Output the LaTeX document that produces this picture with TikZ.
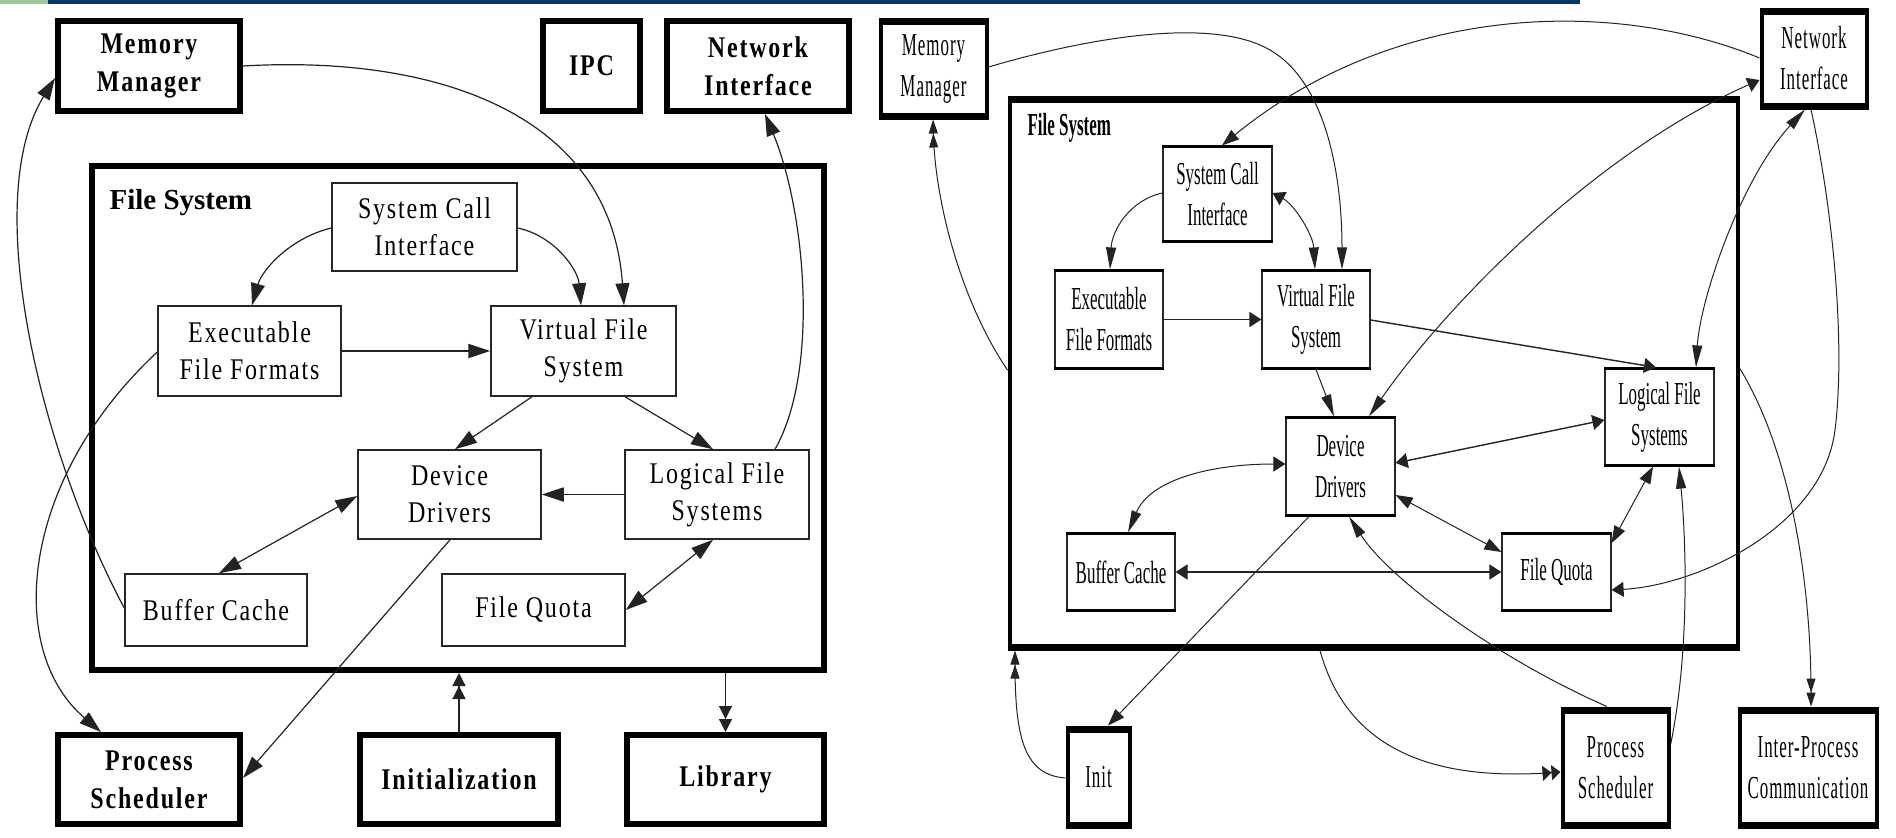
\documentclass[tikz,border=0pt]{standalone}
\usepackage{fontspec}
\setmainfont{Liberation Serif}
\newfontfamily\lf[FakeStretch=0.8,LetterSpace=6]{Liberation Serif}
\newfontfamily\rf[FakeStretch=0.53]{Liberation Serif}
\newfontfamily\rft[FakeStretch=0.53,LetterSpace=3]{Liberation Serif}
\usetikzlibrary{arrows.meta,calc}
\definecolor{topgreen}{RGB}{156,203,152}
\definecolor{topblue}{RGB}{0,56,110}
\definecolor{edgec}{RGB}{35,35,35}
\tikzset{
  lthin/.style={draw=black!85, line width=1.5pt, align=center, inner sep=0pt,
    font=\lf\fontsize{30}{37}\selectfont},
  lthick/.style={draw=black, line width=6pt, align=center, inner sep=0pt,
    font=\lf\bfseries\fontsize{30}{38}\selectfont},
  rthin/.style={draw=black!85, line width=1.2pt, align=center, inner sep=0pt,
    font=\rf\fontsize{32}{41}\selectfont},
  rthick/.style={draw=black, line width=4pt, align=center, inner sep=0pt,
    font=\rft\fontsize{32}{41}\selectfont},
  le/.style={draw=edgec, line width=1.2pt},
  re/.style={draw=edgec, line width=1pt},
  % left arrow tips
  la/.style={-{Triangle[length=22pt,width=14pt]}},
  lb/.style={{Triangle[length=22pt,width=14pt]}-{Triangle[length=22pt,width=14pt]}},
  ld/.style={-{Triangle[length=13pt,width=13pt]Triangle[length=13pt,width=13pt]}},
  % right arrow tips (drawing is squeezed sideways)
  rv/.style={-{Triangle[length=22pt,width=10pt]}},
  rh/.style={-{Triangle[length=12pt,width=15pt]}},
  rm/.style={-{Triangle[length=17pt,width=12pt]}},
  rbv/.style={{Triangle[length=22pt,width=10pt]}-{Triangle[length=22pt,width=10pt]}},
  rbh/.style={{Triangle[length=12pt,width=15pt]}-{Triangle[length=12pt,width=15pt]}},
  rbm/.style={{Triangle[length=17pt,width=12pt]}-{Triangle[length=17pt,width=12pt]}},
  rvh/.style={{Triangle[length=22pt,width=10pt]}-{Triangle[length=12pt,width=15pt]}},
  rhv/.style={{Triangle[length=12pt,width=15pt]}-{Triangle[length=22pt,width=10pt]}},
  rdv/.style={-{Triangle[length=14pt,width=9pt]Triangle[length=14pt,width=9pt]}},
  rdh/.style={-{Triangle[length=9pt,width=15pt]Triangle[length=9pt,width=15pt]}},
}
\begin{document}
\begin{tikzpicture}[x=1pt,y=-1pt]
\useasboundingbox (0,0) rectangle (1896,838);
\fill[white] (0,0) rectangle (1896,838);
% top strip
\fill[topgreen] (0,0) rectangle (48,3.5);
\fill[topblue] (48,0) rectangle (1580,3.5);

% ================= LEFT DIAGRAM =================
\node[lthick, minimum width=732pt, minimum height=504pt] (lfs) at (458,418) {};
\node[anchor=west, font=\bfseries\fontsize{29}{34}\selectfont] (lfslab) at (106,203) {File System};

\node[lthick, minimum width=182pt, minimum height=90pt] (lmm) at (149,66) {Memory\\Manager};
\node[lthick, minimum width=97pt, minimum height=90pt] (lipc) at (591.5,66) {IPC};
\node[lthick, minimum width=182pt, minimum height=90pt] (lni) at (758,66) {Network\\Interface};
\node[lthick, minimum width=182pt, minimum height=89pt] (lps) at (149,779.5) {Process\\Scheduler};
\node[lthick, minimum width=198pt, minimum height=89pt] (linit) at (459,779.5) {Initialization};
\node[lthick, minimum width=197pt, minimum height=89pt] (llib) at (725.5,779.5) {Library};

\node[lthin, minimum width=185pt, minimum height=88pt] (lsci) at (424.5,227) {System Call\\Interface};
\node[lthin, minimum width=183pt, minimum height=90pt] (leff) at (249.5,351) {Executable\\File Formats};
\node[lthin, minimum width=185pt, minimum height=90pt] (lvfs) at (583.5,351) {Virtual File\\System};
\node[lthin, minimum width=183pt, minimum height=89pt] (ldd) at (449.5,494.5) {Device\\Drivers};
\node[lthin, minimum width=184pt, minimum height=89pt] (llfs) at (717,494.5) {Logical File\\Systems};
\node[lthin, minimum width=182pt, minimum height=72pt] (lbc) at (216,610) {Buffer Cache};
\node[lthin, minimum width=183pt, minimum height=72pt] (lfq) at (533.5,610) {File Quota};

% left edges
\draw[le,la] (lmm.east |- 0,66) .. controls (430,55) and (610,110) .. (lvfs.north -| 624,0);
\draw[le,la] (lbc.west |- 0,608) .. controls (40,450) and (-20,200) .. (lmm.west |- 0,78);
\draw[le,la] (leff.west |- 0,352) .. controls (20,480) and (5,650) .. (lps.north -| 101,0);
\draw[le,la] (ldd.south -| 450,0) -- (lps.east |- 0,778);
\draw[le,la] (llfs.north -| 775,0) .. controls (820,370) and (805,210) .. (lni.south -| 765,0);
\draw[le,la] (lsci.west |- 0,228) .. controls (290,238) and (262,270) .. (leff.north -| 252,0);
\draw[le,la] (lsci.east |- 0,228) .. controls (555,236) and (578,270) .. (lvfs.north -| 581,0);
\draw[le,la,line width=1.8pt] (leff.east) -- (lvfs.west);
\draw[le,la] (lvfs.south -| 532,0) -- (ldd.north -| 455,0);
\draw[le,la] (lvfs.south -| 625,0) -- (llfs.north -| 713,0);
\draw[le,la,line width=1.8pt] (llfs.west) -- (ldd.east);
\draw[le,lb] (lbc.north -| 219,0) -- (ldd.west |- 0,496);
\draw[le,lb] (lfq.east |- 0,610) -- (llfs.south -| 713,0);
\draw[le,ld] (linit.north) -- (linit.north |- lfs.south);
\draw[le,ld] (llib.north |- lfs.south) -- (llib.north);

% ================= RIGHT DIAGRAM =================
\node[rthick, minimum width=728pt, minimum height=551pt] (rfs) at (1373.5,373) {};
\node[anchor=west, font=\rf\bfseries\fontsize{32}{38}\selectfont] (rfslab) at (1024,128) {File System};

\node[rthick, minimum width=106pt, minimum height=98pt] (rmm) at (933.5,68.5) {Memory\\Manager};
\node[rthick, minimum width=105pt, minimum height=98pt] (rni) at (1814,58.5) {Network\\Interface};
\node[rthick, minimum width=62pt, minimum height=99pt] (rinit) at (1098.5,777) {Init};
\node[rthick, minimum width=106pt, minimum height=118pt] (rps) at (1615.5,767.5) {Process\\Scheduler};
\node[rthick, minimum width=137pt, minimum height=118pt] (ripc) at (1808,767.5) {Inter-Process\\Communication};

\node[rthin, minimum width=109pt, minimum height=96pt] (rsci) at (1217.5,194) {System Call\\Interface};
\node[rthin, minimum width=108pt, minimum height=99pt] (reff) at (1109,319.5) {Executable\\File Formats};
\node[rthin, minimum width=108pt, minimum height=99pt] (rvfs) at (1316,319.5) {Virtual File\\System};
\node[rthin, minimum width=109pt, minimum height=98pt] (rlfs) at (1659.5,417) {Logical File\\Systems};
\node[rthin, minimum width=109pt, minimum height=99pt] (rdd) at (1340.5,466.5) {Device\\Drivers};
\node[rthin, minimum width=108pt, minimum height=78pt] (rbc) at (1121,572) {Buffer Cache};
\node[rthin, minimum width=109pt, minimum height=78pt] (rfq) at (1556.5,572) {File Quota};

% heavier horizontal edges of the right boxes
\foreach \n in {rsci,reff,rvfs,rlfs,rdd,rbc,rfq}{
  \draw[line width=2.6pt] ([shift={(0,0.9)}]\n.north west) -- ([shift={(0,0.9)}]\n.north east)
    ([shift={(0,-0.9)}]\n.south west) -- ([shift={(0,-0.9)}]\n.south east);}
\foreach \n in {rmm,rni,rfs,rinit,rps,ripc}{
  \draw[line width=7pt] ([shift={(0,3.5)}]\n.north west) -- ([shift={(0,3.5)}]\n.north east)
    ([shift={(0,-3.5)}]\n.south west) -- ([shift={(0,-3.5)}]\n.south east);}

% right edges
\draw[re,rv] (rmm.east |- 0,67) .. controls (1080,40) and (1210,15) .. (1270,50)
  .. controls (1324,81) and (1342,170) .. (rvfs.north -| 1342,0);
\draw[re,rm] (rni.west |- 0,58) .. controls (1620,0) and (1400,0) .. (rsci.north -| 1222,0);
\draw[re,rdv] (rfs.west |- 0,370) .. controls (960,300) and (935,200) .. (rmm.south -| 933,0);
\draw[re,rvh] (rdd.north -| 1369,0) .. controls (1450,300) and (1600,150) .. (rni.west |- 0,80);
\draw[re,rbv] (rni.south -| 1805,0) .. controls (1740,180) and (1700,300) .. (rlfs.north -| 1696,0);
\draw[re,rh] (rni.south -| 1811,0) .. controls (1835,220) and (1845,350) .. (1835,430)
  .. controls (1823,526) and (1700,585) .. (rfq.east |- 0,590);
\draw[re,rdv] (rfs.east |- 0,368) .. controls (1790,450) and (1811,580) .. (ripc.north -| 1811,0);
\draw[re,rhv] (rsci.east |- 0,193) .. controls (1295,205) and (1313,235) .. (rvfs.north -| 1315,0);
\draw[re,rv] (rsci.west |- 0,193) .. controls (1130,200) and (1112,230) .. (reff.north -| 1110,0);
\draw[re,rh,line width=1.8pt] (reff.east) -- (rvfs.west);
\draw[re,rh,line width=1.4pt] (rvfs.east |- 0,320) -- (rlfs.north -| 1656,0);
\draw[re,rv] (rvfs.south -| 1316,0) -- (rdd.north -| 1334,0);
\draw[re,rbh,line width=1.4pt] (rdd.east |- 0,463) -- (rlfs.west |- 0,420);
\draw[re,rvh] (rbc.north -| 1128,0) .. controls (1150,480) and (1210,464) .. (rdd.west |- 0,464);
\draw[re,rbh,line width=1.8pt] (rbc.east) -- (rfq.west);
\draw[re,rbm] (rdd.east |- 0,495) -- (rfq.west |- 0,552);
\draw[re,rbm] (rfq.east |- 0,543) -- (rlfs.south -| 1653,0);
\draw[re,rm] (rdd.south -| 1309,0) -- (rinit.north -| 1108,0);
\draw[re,rdv] (rinit.west |- 0,778) .. controls (1025,775) and (1015,740) .. (rfs.south -| 1015,0);
\draw[re,rdh] (rfs.south -| 1320,0) .. controls (1350,760) and (1450,780) .. (rps.west |- 0,772);
\draw[re,rv] (rps.north -| 1607,0) .. controls (1500,660) and (1390,580) .. (rdd.south -| 1349,0);
\draw[re,rv] (rps.east |- 0,745) .. controls (1690,650) and (1686,540) .. (rlfs.south -| 1679,0);
\end{tikzpicture}
\end{document}
